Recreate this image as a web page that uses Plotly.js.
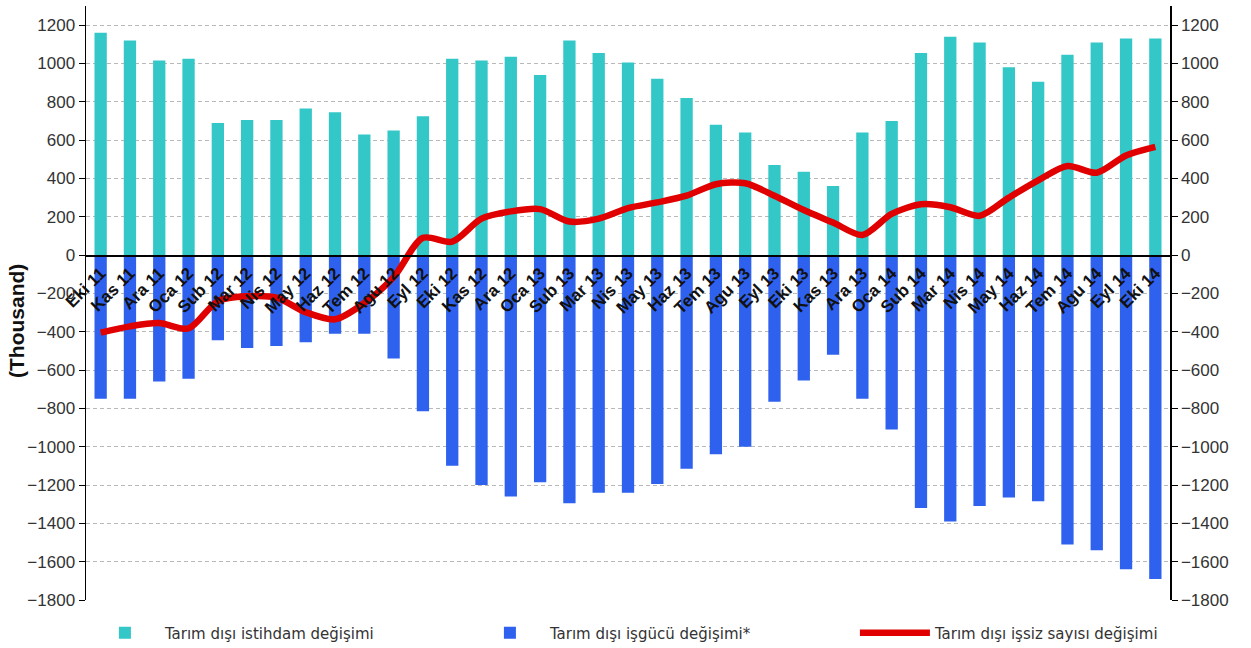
<!DOCTYPE html>
<html>
<head>
<meta charset="utf-8">
<script src="https://cdn.plot.ly/plotly-3.0.1.min.js"></script>
<style>
  html, body { margin: 0; padding: 0; background: #ffffff; }
  #chart { width: 1251px; height: 648px; }
</style>
</head>
<body>
<div id="chart"></div>
<script>
// Month labels (category axis)
const months = ["Eki 11","Kas 11","Ara 11","Oca 12","Sub 12","Mar 12","Nis 12","May 12","Haz 12","Tem 12","Agu 12","Eyl 12",
  "Eki 12","Kas 12","Ara 12","Oca 13","Sub 13","Mar 13","Nis 13","May 13","Haz 13","Tem 13","Agu 13","Eyl 13",
  "Eki 13","Kas 13","Ara 13","Oca 14","Sub 14","Mar 14","Nis 14","May 14","Haz 14","Tem 14","Agu 14","Eyl 14","Eki 14"];

// Tarım dışı istihdam değişimi (thousand)
const employmentChange = [1160,1120,1015,1025,690,705,705,765,745,630,650,725,
  1025,1015,1035,940,1120,1055,1005,920,820,680,640,470,
  435,360,640,700,1055,1140,1110,980,905,1045,1110,1130,1130];

// Tarım dışı işgücü değişimi* (thousand)
const labourForceChange = [-750,-750,-660,-645,-445,-485,-475,-455,-410,-410,-540,-815,
  -1100,-1200,-1260,-1185,-1295,-1240,-1240,-1195,-1115,-1040,-1000,-765,
  -655,-520,-750,-910,-1320,-1390,-1310,-1265,-1285,-1510,-1540,-1640,-1690];

// Tarım dışı işsiz sayısı değişimi (thousand)
const unemployedChange = [-405,-372,-355,-383,-240,-215,-222,-298,-335,-250,-115,90,
  70,190,228,240,175,190,245,275,310,370,375,310,
  235,170,105,215,265,250,205,300,390,465,430,520,565];

const seriesNames = ["Tarım dışı istihdam değişimi", "Tarım dışı işgücü değişimi*", "Tarım dışı işsiz sayısı değişimi"];
const yTitle = "(Thousand)";

const yMin = -1800, yMax = 1300;
const zeroFrac = (0 - yMin) / (yMax - yMin);
const FONT = "'Liberation Sans', Arial, sans-serif";

const traces = [
  { type: "bar", name: seriesNames[0], x: months, y: employmentChange,
    marker: { color: "#33C7C7", line: { width: 0 } }, hoverinfo: "x+y" },
  { type: "bar", name: seriesNames[1], x: months, y: labourForceChange,
    marker: { color: "#2E62EE", line: { width: 0 } }, hoverinfo: "x+y" },
  { type: "scatter", mode: "lines", name: seriesNames[2], x: months, y: unemployedChange,
    yaxis: "y2",
    line: { color: "#E00000", width: 6.5, shape: "spline", smoothing: 0.8 }, hoverinfo: "x+y" }
];

const yCommon = {
  range: [yMin, yMax], dtick: 200, tick0: 0,
  showline: true, linecolor: "#000", linewidth: 1.5,
  ticks: "outside", ticklen: 6, tickcolor: "#000", tickwidth: 1,
  tickfont: { family: FONT, size: 17, color: "#333" },
  zeroline: false, fixedrange: true
};

const layout = {
  width: 1251, height: 648,
  margin: { l: 86, r: 81, t: 6, b: 48, autoexpand: false },
  paper_bgcolor: "#fff", plot_bgcolor: "#fff",
  barmode: "relative", bargap: 0.58,
  showlegend: true,
  legend: {
    orientation: "h", xref: "paper", yref: "paper",
    x: -0.001, y: -0.0556, xanchor: "left", yanchor: "middle",
    entrywidth: 300, entrywidthmode: "pixels",
    font: { family: "'DejaVu Sans', Verdana, sans-serif", size: 15, color: "#333" },
    itemwidth: 70, traceorder: "normal"
  },
  xaxis: {
    type: "category", range: [-0.5, months.length - 0.5],
    anchor: "free", position: zeroFrac,
    showline: true, linecolor: "#000", linewidth: 1.5,
    ticks: "", showgrid: false, zeroline: false,
    tickangle: -45,
    tickfont: { family: FONT, size: 17, color: "#111", weight: "bold" },
    fixedrange: true
  },
  yaxis: Object.assign({}, yCommon, {
    showgrid: true, gridcolor: "#b8b8b8", gridwidth: 1, griddash: "4px,3px"
  }),
  yaxis2: Object.assign({}, yCommon, {
    overlaying: "y", side: "right", showgrid: false
  }),
  annotations: [{
    text: "<b>" + yTitle + "</b>", xref: "paper", yref: "paper",
    x: -0.0635, y: 0.47, xanchor: "center", yanchor: "middle",
    textangle: -90, showarrow: false,
    font: { family: FONT, size: 21, color: "#111" }
  }]
};

Plotly.newPlot("chart", traces, layout, { displayModeBar: false, staticPlot: true });
</script>
</body>
</html>
